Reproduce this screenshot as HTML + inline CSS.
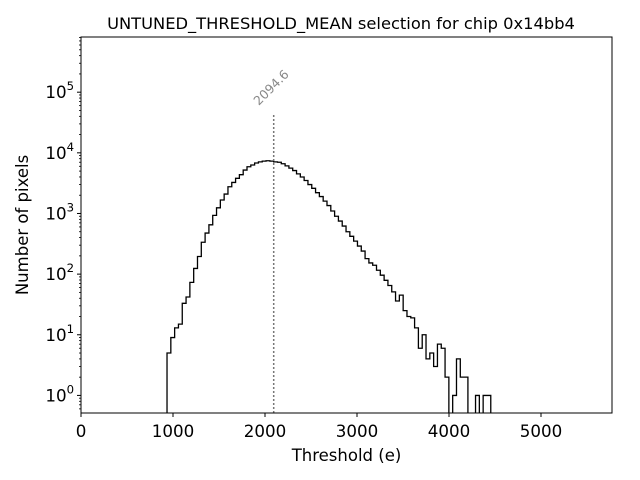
<!DOCTYPE html>
<html><head><meta charset="utf-8"><style>
body{margin:0;background:#fff}
svg{display:block;font-family:"DejaVu Sans","Liberation Sans",sans-serif}
</style></head><body>
<svg id="chart" width="640" height="480" viewBox="0 0 640 480"></svg>
<script>
const binStart = 935;
const binWidth = 41.4;
const counts = [5,9,13,15,33,42,73,124,195,335,475,650,930,1240,1670,2090,2760,3250,3800,4360,5200,5900,6300,6800,7100,7300,7400,7300,
7100,7000,6600,6100,5600,5100,4500,4000,3500,3000,2600,2200,1900,1600,1350,1100,900,750,620,500,420,350,290,240,180,
153,140,116,96,79,65,51,36,45,25,20,19,13,6,10,4,5,3,7,6,2,0,1,4,2,2,0,0,1,0,1,1];
const xTicks = [0,1000,2000,3000,4000,5000];
const yTickExps = [0,1,2,3,4,5];
const markerValue = 2094.6;

const L=81,R=612,T=37,B=413;
const xMin=0,xMax=(R-L)/0.092;
const yLogMin=-0.29,yLogMax=5.91;
const X=v=>L+(v-xMin)/(xMax-xMin)*(R-L);
const Y=v=>v<=0?B+5:B-(Math.log10(v)-yLogMin)/(yLogMax-yLogMin)*(B-T);
const svg=document.getElementById('chart');
const NS='http://www.w3.org/2000/svg';
function mk(tag,attrs,parent){const e=document.createElementNS(NS,tag);for(const k in attrs)e.setAttribute(k,attrs[k]);(parent||svg).appendChild(e);return e;}

const defs=mk('defs',{});
const cp=mk('clipPath',{id:'plotclip'},defs);
mk('rect',{x:L,y:T,width:R-L,height:B-T},cp);

let d='M'+X(binStart)+','+(B+5);
counts.forEach((c,i)=>{const x0=X(binStart+i*binWidth),x1=X(binStart+(i+1)*binWidth);d+=' L'+x0+','+Y(c)+' L'+x1+','+Y(c);});
d+=' L'+X(binStart+counts.length*binWidth)+','+(B+5);
const hist=mk('path',{d:d,fill:'none',stroke:'#000','stroke-width':1.3,'clip-path':'url(#plotclip)'});



const ml=mk('line',{x1:X(markerValue),x2:X(markerValue),y1:B,y2:113,stroke:'#777','stroke-width':1.5,'stroke-dasharray':'2,2'});


const mt=mk('text',{x:0,y:0,fill:'#888','font-size':12.5,transform:'translate('+(X(markerValue)-15)+',106) rotate(-45)'});
mt.textContent=String(markerValue);



const fr=mk('rect',{x:L,y:T,width:R-L,height:B-T,fill:'none',stroke:'#000','stroke-width':1});



xTicks.forEach(v=>{const x=X(v);
 mk('line',{x1:x,x2:x,y1:B,y2:B+4,stroke:'#000'});
 const t=mk('text',{x:x,y:437,'text-anchor':'middle','font-size':16.7});t.textContent=v;
 
 
});
yTickExps.forEach(e=>{const y=Y(Math.pow(10,e));
 mk('line',{x1:L,x2:L-4,y1:y,y2:y,stroke:'#000'});
 const t=mk('text',{x:L-7,y:y+6,'text-anchor':'end','font-size':16.7});
 t.innerHTML='10<tspan dy="-8" font-size="11.7">'+e+'</tspan>';
 
 
});
for(let e=-1;e<=5;e++)for(let m=2;m<=9;m++){const v=m*Math.pow(10,e);const lv=Math.log10(v);if(lv<yLogMin||lv>yLogMax)continue;const y=Y(v);mk('line',{x1:L,x2:L-2,y1:y,y2:y,stroke:'#000','stroke-width':0.8});}

const xt=mk('text',{x:(L+R)/2,y:461,'text-anchor':'middle','font-size':16.5});xt.textContent='Threshold (e)';


const yt=mk('text',{x:0,y:0,'text-anchor':'middle','font-size':16.5,transform:'translate(28,225) rotate(-90)'});yt.textContent='Number of pixels';


const tt=mk('text',{x:341,y:29,'text-anchor':'middle','font-size':16.3});tt.textContent='UNTUNED_THRESHOLD_MEAN selection for chip 0x14bb4';


</script>
</body></html>
